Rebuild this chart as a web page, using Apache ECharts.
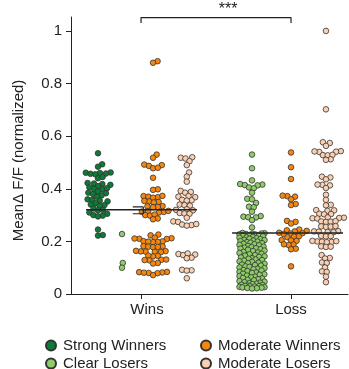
<!DOCTYPE html>
<html>
<head>
<meta charset="utf-8">
<script src="https://cdn.jsdelivr.net/npm/echarts@6/dist/echarts.min.js"></script>
<style>
  html, body { margin: 0; padding: 0; background: #fff; }
  #chart { width: 349px; height: 369px; }
</style>
</head>
<body>
<div id="chart"></div>
<script>
// ---- data -------------------------------------------------------------
const categories = ['Wins', 'Loss'];
const groupNames = ['Strong Winners', 'Clear Losers', 'Moderate Winners', 'Moderate Losers'];
const yTicks = [0, 0.2, 0.4, 0.6, 0.8, 1];

const strongWinnersWins = [
  0.535, 0.493, 0.484, 0.462, 0.460, 0.458, 0.461, 0.455, 0.457, 0.440, 0.445,
  0.422, 0.418, 0.420, 0.415, 0.410, 0.405, 0.400, 0.398, 0.402, 0.390, 0.385,
  0.383, 0.380, 0.375, 0.370, 0.360, 0.358, 0.355, 0.352, 0.345, 0.340, 0.338,
  0.335, 0.325, 0.320, 0.318, 0.310, 0.305, 0.300, 0.298, 0.295, 0.245, 0.222, 0.224
];
const clearLosersWins = [0.228, 0.118, 0.100];
const moderateWinnersWins = [
  0.885, 0.879, 0.530, 0.518, 0.492, 0.487, 0.490, 0.478, 0.480, 0.442,
  0.398, 0.396, 0.372, 0.370, 0.368, 0.373, 0.366, 0.352, 0.350, 0.348, 0.354,
  0.334, 0.331, 0.330, 0.333, 0.315, 0.313, 0.312, 0.316, 0.310, 0.300, 0.298,
  0.302, 0.287, 0.284,
  0.226, 0.223, 0.212, 0.210, 0.214, 0.211, 0.209, 0.200, 0.198, 0.197, 0.201,
  0.199, 0.182, 0.180, 0.178, 0.181, 0.179, 0.163, 0.161, 0.160, 0.162, 0.159,
  0.164, 0.145, 0.143, 0.146, 0.130, 0.128, 0.129, 0.131, 0.118, 0.116, 0.084,
  0.082, 0.080, 0.079, 0.083, 0.081, 0.072
];
const moderateLosersWins = [
  0.520, 0.518, 0.515, 0.505, 0.490, 0.462, 0.446, 0.427, 0.392, 0.388, 0.385,
  0.372, 0.370, 0.368, 0.358, 0.356, 0.355, 0.340, 0.338, 0.336, 0.322, 0.320,
  0.318, 0.308, 0.306, 0.305, 0.290, 0.276, 0.274, 0.264, 0.262, 0.260, 0.266,
  0.152, 0.150, 0.148, 0.154, 0.138, 0.136, 0.092, 0.090, 0.089, 0.060
];
const clearLosersLoss = [
  0.530, 0.478, 0.432, 0.418, 0.416, 0.414, 0.413, 0.405, 0.402, 0.385, 0.362,
  0.360, 0.346, 0.332, 0.330, 0.313, 0.296, 0.294, 0.292, 0.291, 0.281, 0.253,
  0.232, 0.231, 0.230, 0.229, 0.228, 0.227, 0.226, 0.224, 0.222, 0.221, 0.219,
  0.217, 0.215, 0.214, 0.212, 0.210, 0.208, 0.206, 0.205, 0.203, 0.201, 0.199,
  0.197, 0.195, 0.193, 0.191, 0.189, 0.187, 0.185, 0.183, 0.180, 0.178, 0.176,
  0.174, 0.172, 0.170, 0.168, 0.165, 0.163, 0.160, 0.158, 0.156, 0.153, 0.151,
  0.148, 0.146, 0.143, 0.141, 0.139, 0.136, 0.134, 0.131, 0.129, 0.127, 0.124,
  0.122, 0.119, 0.117, 0.115, 0.112, 0.110, 0.108, 0.105, 0.103, 0.101, 0.098,
  0.096, 0.094, 0.091, 0.089, 0.087, 0.084, 0.082, 0.080, 0.077, 0.075, 0.073,
  0.070, 0.068, 0.066, 0.063, 0.061, 0.059, 0.056, 0.054, 0.052, 0.049, 0.047,
  0.045, 0.043, 0.041, 0.039, 0.037, 0.035, 0.034, 0.032, 0.031, 0.030, 0.029,
  0.028, 0.027, 0.026, 0.025, 0.024, 0.023, 0.022, 0.021
];
const moderateWinnersLoss = [
  0.538, 0.482, 0.437, 0.372, 0.370, 0.374, 0.360, 0.342, 0.338, 0.278, 0.274,
  0.268, 0.245, 0.240, 0.242, 0.238, 0.233, 0.231, 0.230, 0.228, 0.218, 0.216,
  0.219, 0.204, 0.202, 0.205, 0.188, 0.186, 0.189, 0.172, 0.170, 0.105
];
const moderateLosersLoss = [
  1.000, 0.702, 0.577, 0.574, 0.563, 0.543, 0.541, 0.540, 0.542, 0.528, 0.527,
  0.529, 0.512, 0.510, 0.446, 0.443, 0.436, 0.415, 0.413, 0.416, 0.403, 0.377,
  0.358, 0.339, 0.337, 0.318, 0.316, 0.319, 0.305, 0.303, 0.304, 0.290, 0.288,
  0.287, 0.289, 0.291, 0.276, 0.274, 0.275, 0.277, 0.257, 0.255, 0.256, 0.258,
  0.238, 0.236, 0.237, 0.239, 0.235, 0.221, 0.219, 0.220, 0.200, 0.198, 0.199,
  0.201, 0.197, 0.202, 0.181, 0.179, 0.180, 0.148, 0.137, 0.135, 0.120, 0.118,
  0.101, 0.086, 0.084, 0.066, 0.045
];
// group means (horizontal bars) and the s.e.m. of the Wins mean
const meanWins = 0.32;
const meanLoss = 0.232;
const semWins = [0.305, 0.331];
const significance = '***';

// ---- layout -----------------------------------------------------------
// x positions: category centre 1 = Wins, 2 = Loss; each group sits at an offset
const groupOffset = {
  'Strong Winners':   [-0.287, null],
  'Clear Losers':     [-0.127, -0.26],
  'Moderate Winners': [0.08, 0],
  'Moderate Losers':  [0.305, 0.233]
};
const groupValues = {
  'Strong Winners':   [strongWinnersWins, null],
  'Clear Losers':     [clearLosersWins, clearLosersLoss],
  'Moderate Winners': [moderateWinnersWins, moderateWinnersLoss],
  'Moderate Losers':  [moderateLosersWins, moderateLosersLoss]
};
const colors = {
  'Strong Winners': '#0f7a37',
  'Clear Losers': '#8dcc68',
  'Moderate Winners': '#f5870f',
  'Moderate Losers': '#fbd0b2'
};
const FONT = "'Liberation Sans', Arial, Helvetica, sans-serif";
const INK = '#222';
const DOT = 5.6;
const PACK = 4.8;   // packing distance between dot centres, px

const chart = echarts.init(document.getElementById('chart'), null, { renderer: 'canvas' });

const baseOption = {
  animation: false,
  textStyle: { fontFamily: FONT, color: INK },
  grid: { left: 71, right: 1, top: 17, bottom: 75 },
  xAxis: {
    type: 'value', min: 0.533, max: 2.38,
    axisLine: { show: true, onZero: false, lineStyle: { color: INK, width: 1 } },
    axisTick: { show: true, length: 5, lineStyle: { color: INK }, customValues: [1, 2] },
    axisLabel: {
      customValues: [1, 2], margin: 8, fontSize: 15, color: INK, fontFamily: FONT,
      formatter: v => v === 1 ? '{w|' + categories[0] + '}' : categories[Math.round(v) - 1],
      rich: { w: { padding: [0, 0, 0, 12], fontSize: 15, color: INK, fontFamily: FONT } }
    },
    splitLine: { show: false }
  },
  yAxis: {
    type: 'value', min: 0, max: 1.053,
    name: 'MeanΔ F/F (normalized)', nameLocation: 'middle', nameGap: 45,
    nameTextStyle: { fontSize: 15, color: INK, fontFamily: FONT, padding: [0, 10, 0, 0] },
    axisLine: { show: true, lineStyle: { color: INK, width: 1 } },
    axisTick: { show: true, length: 5, lineStyle: { color: INK }, customValues: yTicks },
    axisLabel: { customValues: yTicks, margin: 9, fontSize: 15, color: INK, fontFamily: FONT },
    splitLine: { show: false }
  },
  series: []
};
chart.setOption(baseOption);

// pixel scale of the axes, used to pack the dots
const p0 = chart.convertToPixel({ gridIndex: 0 }, [1, 0]);
const p1 = chart.convertToPixel({ gridIndex: 0 }, [2, 1]);
const pxPerX = p1[0] - p0[0];
const pxPerY = p0[1] - p1[1];

// beeswarm packing: returns horizontal pixel offsets for each value
function swarm(values, diam, maxHalf) {
  const order = values.map((v, i) => i).sort((a, b) => values[a] - values[b]);
  const placed = [];
  const off = new Array(values.length);
  const d2 = diam * diam;
  for (const i of order) {
    const y = values[i] * pxPerY;
    const near = placed.filter(p => Math.abs(p.y - y) < diam);
    const cands = [0];
    near.forEach(p => {
      const dx = Math.sqrt(d2 - (p.y - y) * (p.y - y));
      cands.push(p.x + dx, p.x - dx);
    });
    cands.sort((a, b) => Math.abs(a) - Math.abs(b));
    let best = null;
    for (const c of cands) {
      if (Math.abs(c) > maxHalf) break;
      if (near.every(p => (p.x - c) * (p.x - c) + (p.y - y) * (p.y - y) >= d2 - 1e-6)) { best = c; break; }
    }
    if (best === null) {
      let bestD = -1;
      for (let c = -maxHalf; c <= maxHalf + 1e-9; c += 0.5) {
        let d = Infinity;
        near.forEach(p => { d = Math.min(d, (p.x - c) * (p.x - c) + (p.y - y) * (p.y - y)); });
        if (d > bestD) { bestD = d; best = c; }
      }
    }
    placed.push({ x: best, y });
    off[i] = best;
  }
  return off;
}

const scatterSeries = groupNames.map(name => {
  const data = [];
  [0, 1].forEach(ci => {
    const vals = groupValues[name][ci];
    if (!vals) return;
    const maxHalf = vals.length > 100 ? 12.5 : Infinity;
    const offs = swarm(vals, PACK, maxHalf);
    const centre = ci + 1 + groupOffset[name][ci];
    vals.forEach((v, k) => data.push([centre + offs[k] / pxPerX, v]));
  });
  return {
    name, type: 'scatter', data, symbol: 'circle', symbolSize: DOT,
    itemStyle: { color: colors[name], borderColor: '#333', borderWidth: 0.8, opacity: 1 },
    emphasis: { disabled: true }, z: 2
  };
});

const lineStyleOf = w => ({ color: INK, width: w });
const segment = (data, w) => ({
  type: 'line', data, symbol: 'none', clip: false, silent: true, z: 5,
  lineStyle: lineStyleOf(w)
});

// one legend entry per slot: two columns, two rows
const legendSlots = [[45, 338], [45, 356], [200, 338], [200, 356]];
const legends = groupNames.map((name, i) => ({
  data: [name], left: legendSlots[i][0], top: legendSlots[i][1],
  itemWidth: 14, itemHeight: 10, selectedMode: false, padding: 0,
  textStyle: { fontSize: 15, color: INK, fontFamily: FONT }
}));

chart.setOption({
  legend: legends,
  graphic: [{
    type: 'text', x: (chart.convertToPixel({ gridIndex: 0 }, [1.58, 0])[0]), y: 2,
    style: { text: significance, fontSize: 16, fill: INK, textAlign: 'center', textVerticalAlign: 'top', fontFamily: FONT }
  }],
  series: scatterSeries.concat([
    segment([[0.633, meanWins], [1.373, meanWins]], 1.5),
    segment([[1.607, meanLoss], [2.347, meanLoss]], 1.5),
    segment([[0.945, semWins[1]], [1.015, semWins[1]], [1.015, semWins[0]], [0.945, semWins[0]]], 1.2),
    segment([[1, 1.03], [1, 1.051], [2, 1.051], [2, 1.03]], 1.2)
  ])
});
</script>
</body>
</html>
